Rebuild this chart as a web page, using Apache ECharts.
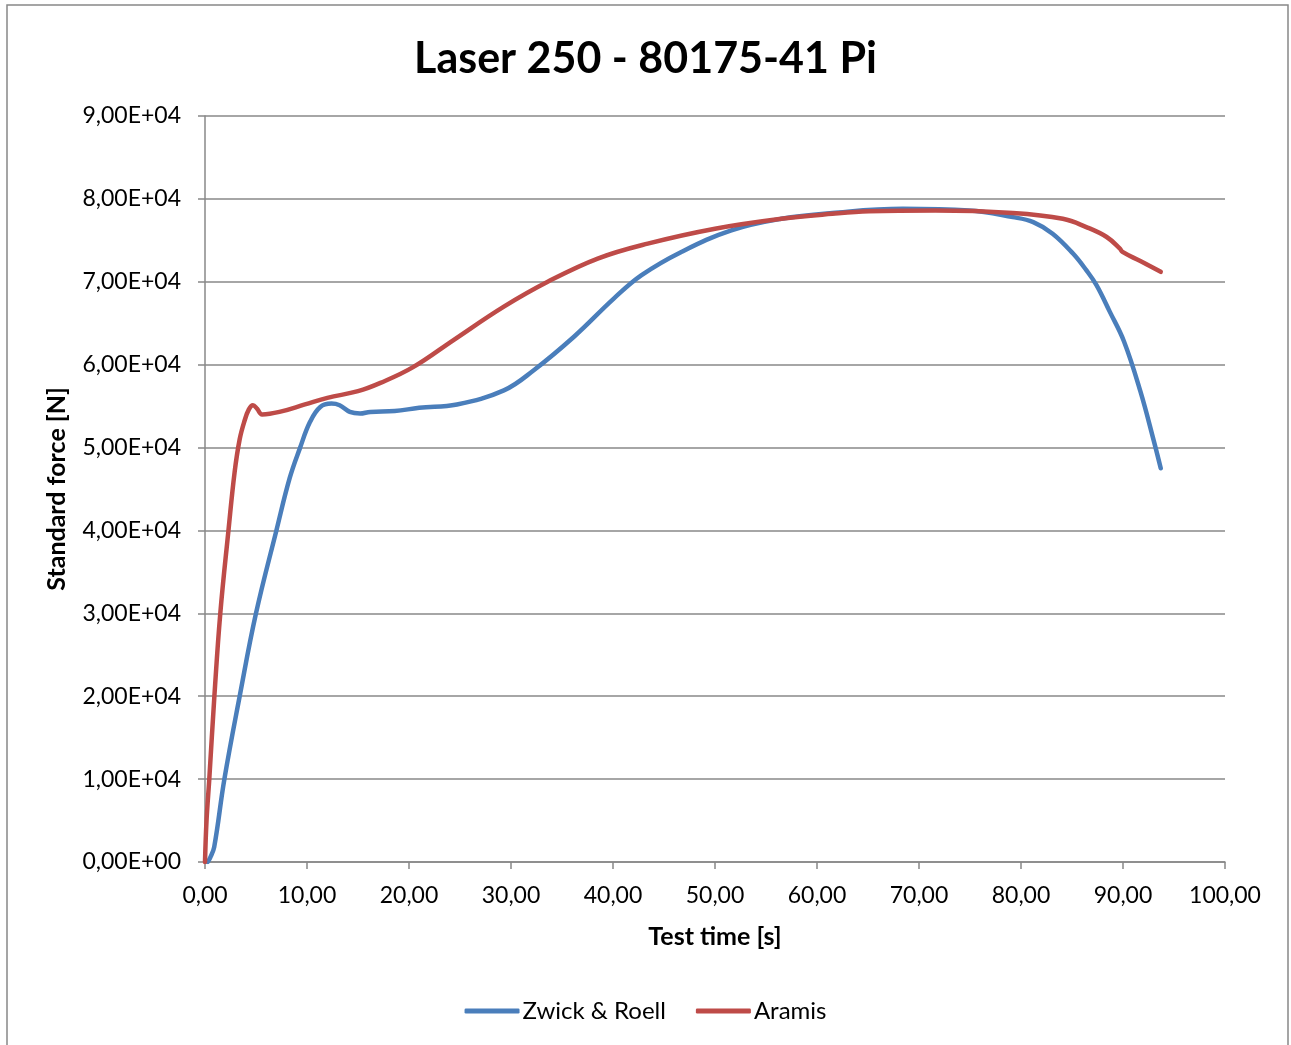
<!DOCTYPE html>
<html><head><meta charset="utf-8">
<script src="https://cdn.jsdelivr.net/npm/echarts@6/dist/echarts.min.js"></script>
<style>html,body{margin:0;padding:0;background:#fff}#c{width:1291px;height:1045px}</style>
</head><body><div id="c"></div>
<script>
const chartTitle = "Laser 250 - 80175-41 Pi";
const seriesNames = ["Zwick & Roell", "Aramis"];
const xAxisName = "Test time [s]";
const yAxisName = "Standard force [N]";

const zwickTime  = [0.26,0.5,0.9,1.9,3.4,5.0,7.0,8.3,9.3,10.3,11.3,12.4,13.2,14.2,15.2,16.2,18.6,21.0,24.7,29.3,32.2,36.2,40.1,42.8,46.7,51.6,56.5,61.5,68.4,74.9,79.2,81.2,83.1,85.1,86.4,87.4,88.7,90.1,91.7,93.0,93.7];
const zwickForce = [0,500,1800,10000,20000,30000,40000,46300,49900,53100,54900,55300,55100,54300,54100,54300,54400,54800,55200,56900,59300,63400,68000,70800,73600,76200,77600,78300,78800,78600,77800,77200,75800,73400,71400,69600,66400,62800,56800,50900,47500];

const aramisTime  = [0,0.15,0.42,0.92,1.5,2.3,2.9,3.4,3.87,4.3,4.7,5.1,5.6,7.3,9.8,12.0,15.0,17.2,20.4,24.4,29.3,33.6,38.5,43.4,50.0,56.5,61.5,65.1,71.6,79.2,84.1,86.4,88.4,89.7,89.95,91.7,93.7];
const aramisForce = [0,5000,10000,20000,30000,40000,47000,51000,53200,54600,55100,54700,54000,54300,55200,56000,56800,57800,59700,63000,67000,70000,72800,74600,76400,77600,78200,78500,78600,78300,77600,76600,75400,74000,73600,72500,71200];

const xTicks = {min:0, max:100, interval:10};
const yTicks = {min:0, max:90000, interval:10000};

const pair = (a,b)=>a.map((v,i)=>[v,b[i]]);
const chart = echarts.init(document.getElementById('c'));
const font = "Lato, 'Open Sans', sans-serif";
chart.setOption({
  animation:false,
  backgroundColor:'#fff',
  graphic:[{type:'rect',shape:{x:7,y:5,width:1281,height:1050},style:{fill:'none',stroke:'#888',lineWidth:1.5},silent:true}],
  title:{text:chartTitle,left:'center',top:33,textStyle:{fontFamily:font,fontSize:43,fontWeight:'bold',color:'#000'}},
  grid:{left:205,right:66,top:116,bottom:183},
  legend:{bottom:17,left:'center',itemWidth:55,itemHeight:5,itemGap:30,icon:'roundRect',
    textStyle:{fontFamily:font,fontSize:24,color:'#000',padding:[0,0,0,-2]},data:seriesNames},
  xAxis:{type:'value',min:xTicks.min,max:xTicks.max,interval:xTicks.interval,
    name:xAxisName,nameLocation:'middle',nameGap:62,
    nameTextStyle:{fontFamily:font,fontSize:25,fontWeight:'bold',color:'#000'},
    axisLine:{show:true,lineStyle:{color:'#888',width:1.5}},
    axisTick:{show:true,length:7,lineStyle:{color:'#888',width:1.5}},
    axisLabel:{fontFamily:font,fontSize:23,color:'#000',margin:22,formatter:v=>v.toFixed(2).replace('.',',')},
    splitLine:{show:false}},
  yAxis:{type:'value',min:yTicks.min,max:yTicks.max,interval:yTicks.interval,
    name:yAxisName,nameLocation:'middle',nameGap:136,
    nameTextStyle:{fontFamily:font,fontSize:25,fontWeight:'bold',color:'#000'},
    axisLine:{show:true,lineStyle:{color:'#888',width:1.5}},
    axisTick:{show:true,length:7,lineStyle:{color:'#888',width:1.5}},
    axisLabel:{fontFamily:font,fontSize:23,color:'#000',margin:24,
      formatter:v=>v===0?'0,00E+00':(v/1e4).toFixed(2).replace('.',',')+'E+04'},
    splitLine:{show:true,lineStyle:{color:'#888',width:1.5}}},
  series:[
    {name:seriesNames[0],type:'line',data:pair(zwickTime,zwickForce),smooth:0.4,showSymbol:false,
      lineStyle:{color:'#4A7EBB',width:4.5,cap:'round',join:'round'},itemStyle:{color:'#4A7EBB'}},
    {name:seriesNames[1],type:'line',data:pair(aramisTime,aramisForce),smooth:0.4,showSymbol:false,
      lineStyle:{color:'#BE4B48',width:4.5,cap:'round',join:'round'},itemStyle:{color:'#BE4B48'}}
  ]
});
</script></body></html>
